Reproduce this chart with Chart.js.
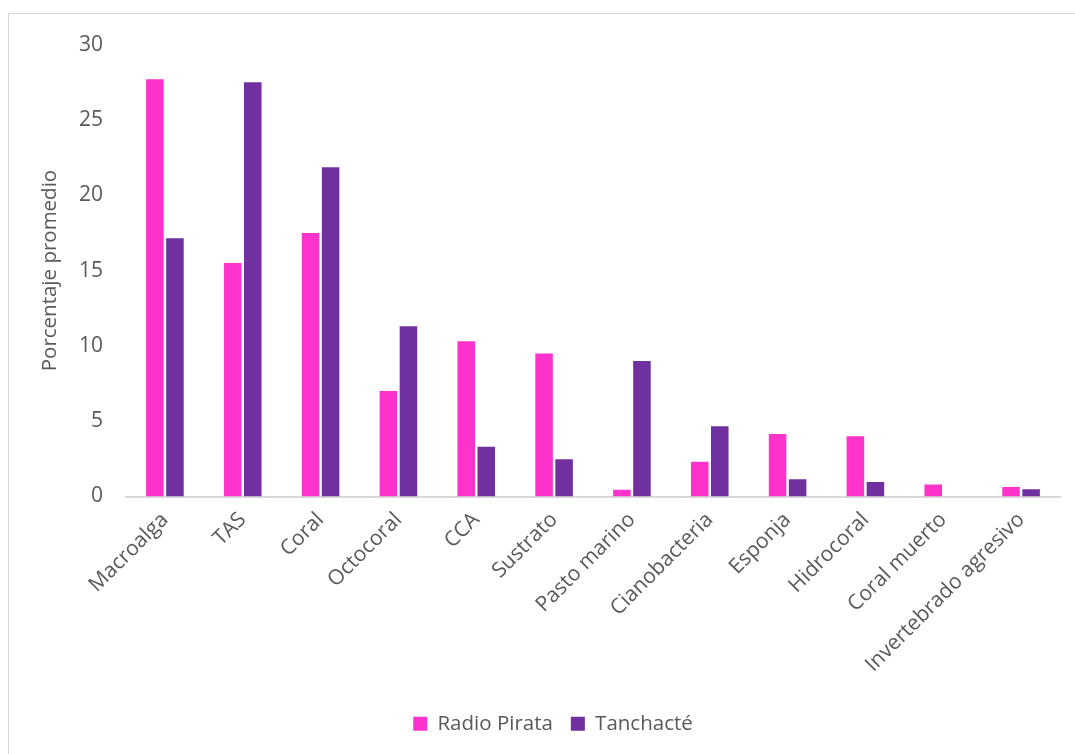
<!DOCTYPE html>
<html>
<head>
<meta charset="utf-8">
<script src="https://cdn.jsdelivr.net/npm/chart.js@4"></script>
<style>
    html, body { margin: 0; padding: 0; background: #fff; overflow: hidden; }
    #frame {
        position: absolute; left: 8px; top: 13px;
        width: 1067px; height: 741px;
        border-left: 1px solid #d9d9d9; border-top: 1px solid #d9d9d9;
    }
    #wrap {
        position: absolute; left: 9px; top: 9px;
        width: 1066px; height: 745px;
    }
</style>
</head>
<body>
<div id="frame"></div>
<div id="wrap"><canvas id="coverChart"></canvas></div>
<script>
// Cobertura promedio por categoría bentónica en cada sitio
const categories = ['Macroalga', 'TAS', 'Coral', 'Octocoral', 'CCA', 'Sustrato', 'Pasto marino',
    'Cianobacteria', 'Esponja', 'Hidrocoral', 'Coral muerto', 'Invertebrado agresivo'];
const radioPirata = [27.7, 15.5, 17.5, 7.0, 10.3, 9.5, 0.45, 2.3, 4.15, 4.0, 0.8, 0.63];
const tanchacte = [17.15, 27.5, 21.85, 11.3, 3.3, 2.47, 9.0, 4.66, 1.14, 0.96, 0, 0.48];
const yTicks = [0, 5, 10, 15, 20, 25, 30];

const textColor = '#595959';
const fontFamily = "'Open Sans', 'Noto Sans', sans-serif";

const ctx = document.getElementById('coverChart').getContext('2d');

new Chart(ctx, {
    type: 'bar',
    data: {
        labels: categories,
        datasets: [{
            label: 'Radio Pirata',
            data: radioPirata,
            backgroundColor: '#FF33CC',
            categoryPercentage: 0.515,
            barPercentage: 0.875
        }, {
            label: 'Tanchacté',
            data: tanchacte,
            backgroundColor: '#7030A0',
            categoryPercentage: 0.515,
            barPercentage: 0.875
        }]
    },
    options: {
        responsive: true,
        maintainAspectRatio: false,
        animation: false,
        layout: { padding: { left: 37, right: 15, top: 12, bottom: 10 } },
        plugins: {
            legend: {
                position: 'bottom',
                labels: {
                    color: textColor,
                    font: { family: fontFamily, size: 20.5 },
                    boxWidth: 14,
                    boxHeight: 14,
                    padding: 18
                }
            },
            tooltip: { enabled: false }
        },
        scales: {
            x: {
                grid: { display: false, drawTicks: false },
                border: { color: '#d9d9d9', width: 2 },
                ticks: {
                    color: textColor,
                    font: { family: fontFamily, size: 21 },
                    minRotation: 45,
                    maxRotation: 45,
                    padding: 11
                },
                afterFit: scale => { scale.height = 199; }
            },
            y: {
                min: 0,
                max: 30,
                afterBuildTicks: scale => { scale.ticks = yTicks.map(v => ({ value: v })); },
                grid: { display: false, drawTicks: false },
                border: { display: false },
                ticks: {
                    color: textColor,
                    font: { family: fontFamily, size: 21 },
                    padding: 23
                },
                title: {
                    display: true,
                    text: 'Porcentaje promedio',
                    color: textColor,
                    font: { family: fontFamily, size: 20.5 },
                    padding: { top: -8, bottom: 0 }
                },
                afterFit: scale => { scale.width = 80; }
            }
        }
    }
});
</script>
</body>
</html>
